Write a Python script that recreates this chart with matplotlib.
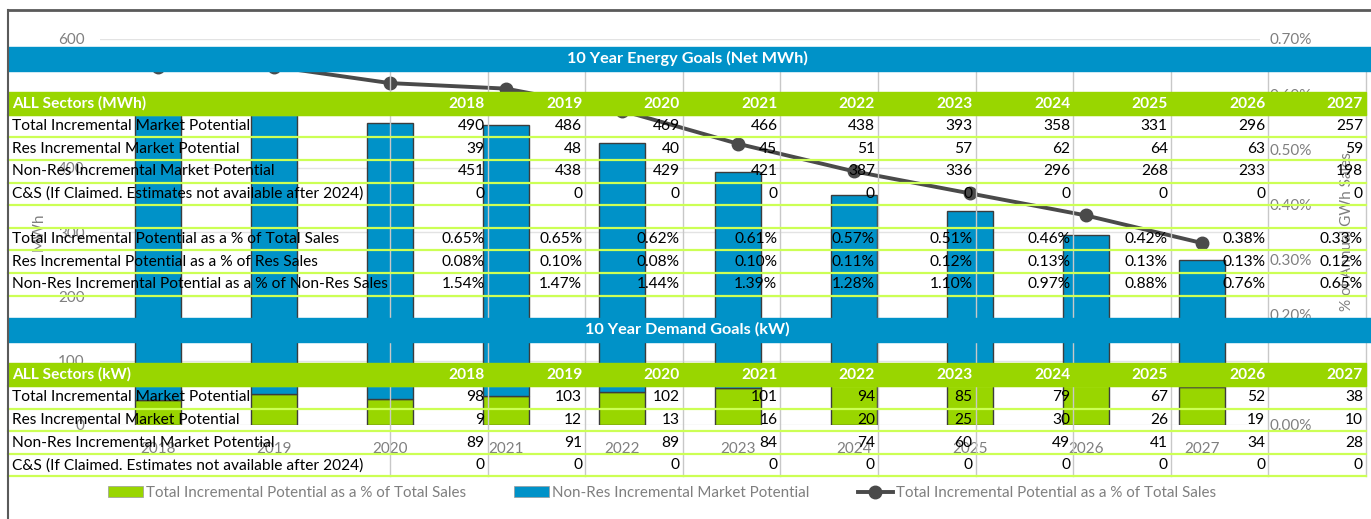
import matplotlib.pyplot as plt
from matplotlib.patches import Rectangle, Patch
from matplotlib.lines import Line2D
from matplotlib.ticker import FuncFormatter

W, H = 1371, 519

years = ["2018", "2019", "2020", "2021", "2022", "2023", "2024", "2025", "2026", "2027"]

# energy table (MWh)
energy_labels = [
    "Total Incremental Market Potential",
    "Res Incremental Market Potential",
    "Non-Res Incremental Market Potential",
    "C&S (If Claimed. Estimates not available after 2024)",
]
energy_total = [490, 486, 469, 466, 438, 393, 358, 331, 296, 257]
energy_res = [39, 48, 40, 45, 51, 57, 62, 64, 63, 59]
energy_nonres = [451, 438, 429, 421, 387, 336, 296, 268, 233, 198]
energy_cs = [0, 0, 0, 0, 0, 0, 0, 0, 0, 0]

pct_labels = [
    "Total Incremental Potential as a % of Total Sales",
    "Res Incremental Potential as a % of Res Sales",
    "Non-Res Incremental Potential as a % of Non-Res Sales",
]
pct_total = [0.65, 0.65, 0.62, 0.61, 0.57, 0.51, 0.46, 0.42, 0.38, 0.33]
pct_res = [0.08, 0.10, 0.08, 0.10, 0.11, 0.12, 0.13, 0.13, 0.13, 0.12]
pct_nonres = [1.54, 1.47, 1.44, 1.39, 1.28, 1.10, 0.97, 0.88, 0.76, 0.65]

# demand table (kW)
demand_total = [98, 103, 102, 101, 94, 85, 79, 67, 52, 38]
demand_res = [9, 12, 13, 16, 20, 25, 30, 26, 19, 10]
demand_nonres = [89, 91, 89, 84, 74, 60, 49, 41, 34, 28]
demand_cs = [0, 0, 0, 0, 0, 0, 0, 0, 0, 0]

BLUE = "#0092C8"
GREEN = "#99D600"
LINE_GREEN = "#CCFF55"
GRID_GRAY = "#C8C8C8"
TXT_GRAY = "#7F7F7F"
FONT = "Lato"

plt.rcParams["font.family"] = [FONT, "DejaVu Sans"]

fig = plt.figure(figsize=(W / 100, H / 100), dpi=100)

# ---------- chart underneath ----------
ax = fig.add_axes([100 / W, (H - 425) / H, 1160 / W, 386 / H])
x = list(range(len(years)))
ax.bar(x, energy_res, width=0.4, color=GREEN, edgecolor="#3C3C3C", linewidth=1.0, zorder=2)
ax.bar(x, energy_nonres, width=0.4, bottom=energy_res, color=BLUE,
       edgecolor="#3C3C3C", linewidth=1.0, zorder=2)
ax.set_xlim(-0.5, len(years) - 0.5)
ax.set_ylim(0, 600)
ax.set_yticks(range(0, 601, 100))
ax.set_xticks(x)
ax.set_xticklabels(years)
ax.grid(axis="y", color="#E3E3E3", linewidth=1, zorder=0)
ax.set_axisbelow(True)
for s in ax.spines.values():
    s.set_visible(False)
ax.tick_params(length=0, labelcolor=TXT_GRAY, labelsize=11)
ax.tick_params(axis="y", pad=11)
ax.tick_params(axis="x", pad=12)
ax.set_ylabel("MWh", color=TXT_GRAY, fontsize=11)
ax.yaxis.set_label_coords(-0.047, 0.5)

ax2 = ax.twinx()
ax2.plot(x, pct_total, color="#4A4A4A", linewidth=2.8, marker="o", markersize=9, zorder=3)
ax2.set_ylim(0, 0.7)
ax2.set_yticks([i / 10 for i in range(8)])
ax2.yaxis.set_major_formatter(FuncFormatter(lambda v, p: f"{v:.2f}%"))
for s in ax2.spines.values():
    s.set_visible(False)
ax2.tick_params(length=0, labelcolor=TXT_GRAY, labelsize=11, pad=7)
ax2.set_ylabel("% of Annual GWh Sales", color=TXT_GRAY, fontsize=11)
ax2.yaxis.set_label_coords(1.069, 0.5)

handles = [
    Patch(facecolor=GREEN, edgecolor="#9a9a9a", linewidth=0.5),
    Patch(facecolor=BLUE, edgecolor="#9a9a9a", linewidth=0.5),
    Line2D([], [], color="#4A4A4A", linewidth=2.8, marker="o", markersize=9),
]
leg_labels = [
    "Total Incremental Potential as a % of Total Sales",
    "Non-Res Incremental Market Potential",
    "Total Incremental Potential as a % of Total Sales",
]
fig.legend(handles, leg_labels, loc="center", bbox_to_anchor=(662 / W, (H - 493) / H),
           ncol=3, frameon=False, fontsize=10.9, labelcolor=TXT_GRAY,
           handlelength=2.3, handleheight=0.7, handletextpad=0.2, columnspacing=3.2)

# ---------- table overlay ----------
tab = fig.add_axes([0, 0, 1, 1])
tab.set_xlim(0, W)
tab.set_ylim(H, 0)
tab.axis("off")

left, right = 8, 1366
label_w = 382
col_w = (right - left - label_w) / len(years)
top0, rh = 47, 22.6
col_edges = [left + label_w + i * col_w for i in range(len(years) + 1)]

def row_top(i):
    return top0 + i * rh

# vertical cell borders
for xe in col_edges:
    tab.plot([xe, xe], [row_top(1), row_top(12)], color=GRID_GRAY, linewidth=1, zorder=1)
    tab.plot([xe, xe], [row_top(13), row_top(19)], color=GRID_GRAY, linewidth=1, zorder=1)

# horizontal light green borders
for i in [3, 4, 5, 6, 7, 8, 9, 10, 11, 15, 16, 17, 18, 19]:
    tab.plot([left, right], [row_top(i), row_top(i)], color=LINE_GREEN, linewidth=1.6, zorder=1)

def band(i, title):
    tab.add_patch(Rectangle((left, row_top(i)), W - left, rh + 1, color=BLUE, zorder=3))
    tab.text((left + right) / 2, row_top(i) + rh / 2, title, color="white", fontsize=11.7,
             fontweight="bold", ha="center", va="center", zorder=4)

def header(i, title):
    tab.add_patch(Rectangle((left, row_top(i)), right - left, rh, color=GREEN, zorder=3))
    tab.text(left + 4, row_top(i) + rh / 2, title, color="white", fontsize=11.2,
             fontweight="bold", ha="left", va="center", zorder=4)
    for j, yr in enumerate(years):
        tab.text(col_edges[j + 1] - 3, row_top(i) + rh / 2, yr, color="white", fontsize=11.2,
                 fontweight="bold", ha="right", va="center", zorder=4)

def data_row(i, label, vals, fmt):
    tab.text(left + 4, row_top(i) + rh / 2, label, color="black", fontsize=11.2,
             ha="left", va="center", zorder=4)
    for j, v in enumerate(vals):
        tab.text(col_edges[j + 1] - 3, row_top(i) + rh / 2, fmt(v), color="black",
                 fontsize=11.2, ha="right", va="center", zorder=4)

num = lambda v: f"{v}"
pct = lambda v: f"{v:.2f}%"

band(0, "10 Year Energy Goals (Net MWh)")
header(2, "ALL Sectors (MWh)")
for k, (lab, vals) in enumerate(zip(energy_labels, [energy_total, energy_res, energy_nonres, energy_cs])):
    data_row(3 + k, lab, vals, num)
for k, (lab, vals) in enumerate(zip(pct_labels, [pct_total, pct_res, pct_nonres])):
    data_row(8 + k, lab, vals, pct)

band(12, "10 Year Demand Goals (kW)")
header(14, "ALL Sectors (kW)")
for k, (lab, vals) in enumerate(zip(energy_labels, [demand_total, demand_res, demand_nonres, demand_cs])):
    data_row(15 + k, lab, vals, num)

# chart area border
tab.plot([8, 8], [10, H], color="#5A5A5A", linewidth=1.5, zorder=5)
tab.plot([8, W], [10, 10], color="#5A5A5A", linewidth=2, zorder=5)

fig.savefig("out.png", dpi=100)
